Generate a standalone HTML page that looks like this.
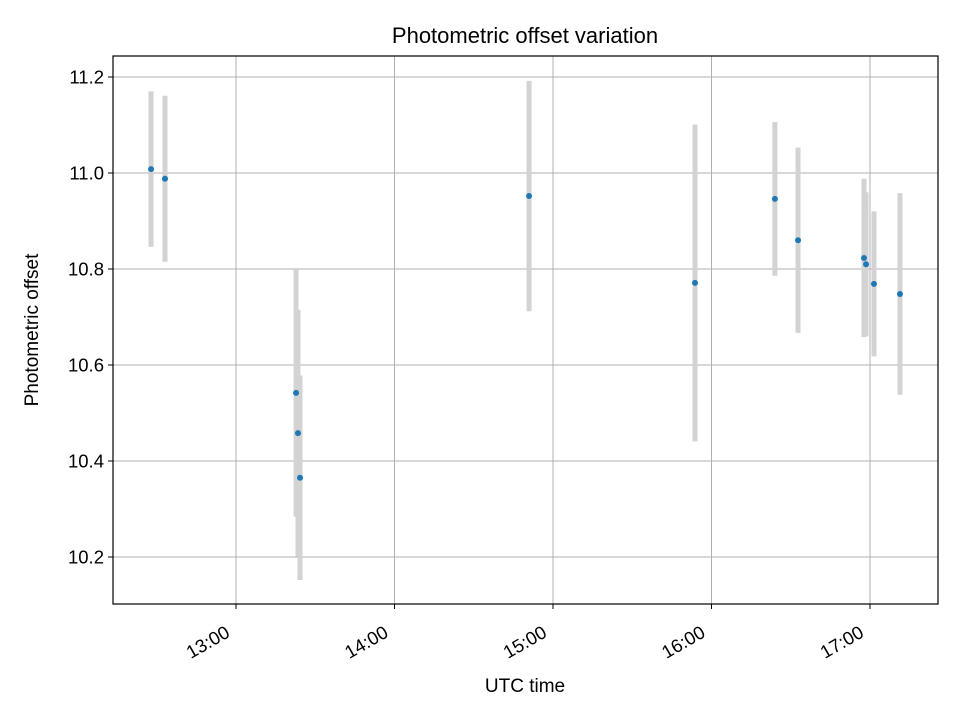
<!DOCTYPE html>
<html><head><meta charset="utf-8"><style>
body{margin:0;background:#fff;}
svg text{font-family:"Liberation Sans","DejaVu Sans",sans-serif;fill:#000;}
</style></head><body>
<svg id="chart" width="960" height="720" viewBox="0 0 960 720">
<rect x="0" y="0" width="960" height="720" fill="#fff"/>
<text x="525" y="43" font-size="22" text-anchor="middle">Photometric offset variation</text>
<g id="grid"></g><g id="bars"></g><g id="pts"></g><g id="ticks"></g>
<rect x="113" y="56" width="825" height="548" fill="none" stroke="#000" stroke-width="1.2"/>
<text x="525" y="692" font-size="19" text-anchor="middle">UTC time</text>
<text transform="translate(38,330) rotate(-90)" font-size="19" text-anchor="middle">Photometric offset</text>
</svg>
<script>
const times=[12.464,12.552,13.379,13.391,13.404,14.849,15.896,16.40,16.546,16.962,16.975,17.025,17.189];
const offsets=[11.008,10.988,10.542,10.458,10.365,10.952,10.771,10.946,10.860,10.823,10.810,10.769,10.748];
const errors=[0.162,0.173,0.258,0.257,0.213,0.24,0.33,0.16,0.193,0.165,0.15,0.151,0.21];
const xTicks=[13,14,15,16,17];
const xTickLabels=["13:00","14:00","15:00","16:00","17:00"];
const yTicks=[10.2,10.4,10.6,10.8,11.0,11.2];
const yTickLabels=["10.2","10.4","10.6","10.8","11.0","11.2"];
const X=t=>236+(t-13)*158.5;
const Y=v=>77+(11.2-v)*480;
const NS="http://www.w3.org/2000/svg";
function mk(tag,attrs,parent){const e=document.createElementNS(NS,tag);for(const k in attrs)e.setAttribute(k,attrs[k]);document.getElementById(parent).appendChild(e);return e;}
xTicks.forEach((t,i)=>{const x=X(t);
 const g=mk('line',{x1:x,x2:x,y1:56,y2:604,stroke:'#b0b0b0','stroke-width':1},'grid');
 
 
 mk('line',{x1:x,x2:x,y1:604,y2:609,stroke:'#000'},'ticks');
 const bx=x-5, by=636;
 const tx=mk('text',{x:bx,y:by,'font-size':18.5,'text-anchor':'end',transform:`rotate(-30 ${bx} ${by})`},'ticks');
 tx.textContent=xTickLabels[i];
 
 
});
yTicks.forEach((v,i)=>{const y=Y(v);
 const g=mk('line',{x1:113,x2:938,y1:y,y2:y,stroke:'#b0b0b0','stroke-width':1},'grid');
 
 
 mk('line',{x1:108,x2:113,y1:y,y2:y,stroke:'#000'},'ticks');
 const tx=mk('text',{x:104,y:y+6.5,'font-size':18.5,'text-anchor':'end'},'ticks');
 tx.textContent=yTickLabels[i];
 
 
});
times.forEach((t,i)=>{const x=X(t);
 const b=mk('line',{x1:x,x2:x,y1:Y(offsets[i]+errors[i]),y2:Y(offsets[i]-errors[i]),stroke:'#d3d3d3','stroke-width':5},'bars');
 
 
 const c=mk('circle',{cx:x,cy:Y(offsets[i]),r:3,fill:'#1f77b4'},'pts');
 
 
});
</script>
</body></html>
